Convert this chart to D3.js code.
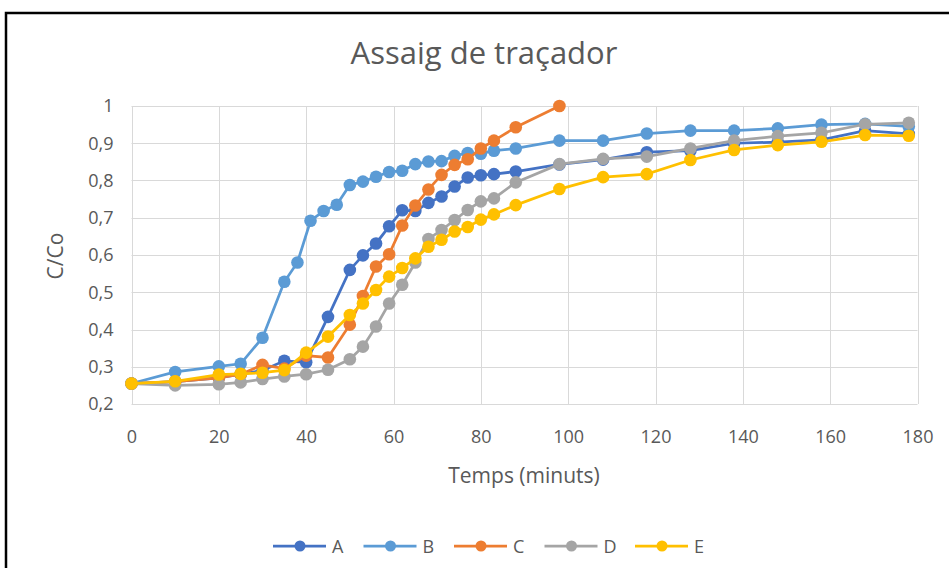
<!DOCTYPE html>
<html lang="ca">
<head>
<meta charset="utf-8">
<title>Assaig de traçador</title>
<script src="https://cdn.jsdelivr.net/npm/d3@7"></script>
<style>
  body {
    margin: 0;
    padding: 0;
    background: #ffffff;
    overflow: hidden;
  }
  text {
    font-family: "Open Sans", "Noto Sans", sans-serif;
    fill: #595959;
  }
  .grid line {
    stroke: #d9d9d9;
    stroke-width: 1px;
  }
  .serie {
    fill: none;
    stroke-width: 2.75px;
  }
</style>
</head>
<body>
<script>

// temps (minuts)
var tempsB = [0,10,20,25,30,35,38,41,44,47,50,53,56,59,62,65,68,71,74,77,80,83,88,98,108,118,128,138,148,158,168,178];
var temps = [0,10,20,25,30,35,40,45,50,53,56,59,62,65,68,71,74,77,80,83,88,98,108,118,128,138,148,158,168,178];
var tempsC = [0,10,20,25,30,35,40,45,50,53,56,59,62,65,68,71,74,77,80,83,88,98];

// C/Co per assaig
var valA = [0.255,0.26,0.27,0.28,0.29,0.316,0.312,0.434,0.56,0.599,0.631,0.677,0.72,0.718,0.74,0.757,0.784,0.808,0.814,0.817,0.824,0.843,0.856,0.876,0.88,0.9,0.903,0.909,0.934,0.925];
var valB = [0.255,0.286,0.301,0.308,0.378,0.528,0.58,0.692,0.718,0.735,0.788,0.797,0.81,0.823,0.826,0.844,0.851,0.852,0.866,0.874,0.872,0.88,0.886,0.907,0.907,0.926,0.934,0.934,0.94,0.95,0.952,0.945];
var valC = [0.255,0.26,0.27,0.28,0.305,0.295,0.33,0.325,0.413,0.49,0.569,0.602,0.679,0.733,0.776,0.815,0.842,0.857,0.886,0.907,0.943,1.0];
var valD = [0.255,0.25,0.253,0.258,0.267,0.274,0.28,0.292,0.32,0.354,0.408,0.47,0.52,0.58,0.643,0.667,0.694,0.721,0.744,0.752,0.795,0.844,0.858,0.864,0.886,0.907,0.919,0.928,0.951,0.955];
var valE = [0.255,0.261,0.279,0.281,0.284,0.291,0.338,0.381,0.439,0.47,0.506,0.542,0.565,0.591,0.622,0.641,0.663,0.675,0.695,0.709,0.734,0.777,0.809,0.817,0.855,0.882,0.895,0.904,0.922,0.92];

var noms = ["A","B","C","D","E"];
var colors = ["#4472c4","#5b9bd5","#ed7d31","#a5a5a5","#ffc000"];

var xTicks = [0,20,40,60,80,100,120,140,160,180];
var yTicks = [0.2,0.3,0.4,0.5,0.6,0.7,0.8,0.9,1];

var series = [
  {nom:"A", x:temps, y:valA},
  {nom:"B", x:tempsB, y:valB},
  {nom:"C", x:tempsC, y:valC},
  {nom:"D", x:temps, y:valD},
  {nom:"E", x:temps, y:valE}
];

var svg = d3.select("body").append("svg")
  .attr("width", 949)
  .attr("height", 568);

// marc negre
svg.append("rect")
  .attr("x", 6)
  .attr("y", 13)
  .attr("width", 960)
  .attr("height", 600)
  .attr("fill", "#ffffff")
  .attr("stroke", "#000000")
  .attr("stroke-width", 2.5);

var pLeft = 131.5, pRight = 917.5, pTop = 106, pBottom = 404;

var x = d3.scaleLinear().domain([0,180]).range([pLeft,pRight]);
var y = d3.scaleLinear().domain([0.2,1]).range([pBottom,pTop]);

var fmt = function(d){ return String(+d.toFixed(1)).replace(".", ","); };

// graella
var grid = svg.append("g").attr("class","grid");
grid.selectAll(".h").data(yTicks).enter().append("line")
  .attr("class","h")
  .attr("x1", pLeft).attr("x2", pRight)
  .attr("y1", function(d){ return Math.round(y(d)) + 0.5; })
  .attr("y2", function(d){ return Math.round(y(d)) + 0.5; });
grid.selectAll(".v").data(xTicks).enter().append("line")
  .attr("class","v")
  .attr("y1", pTop).attr("y2", pBottom)
  .attr("x1", function(d){ return Math.round(x(d)) + 0.5; })
  .attr("x2", function(d){ return Math.round(x(d)) + 0.5; });

// eixos
var xAxis = svg.append("g")
  .attr("transform", "translate(0," + pBottom + ")")
  .call(d3.axisBottom(x).tickValues(xTicks).tickSize(0).tickPadding(26).tickFormat(d3.format("d")));
xAxis.select(".domain").remove();
xAxis.selectAll("text").style("font-size", "18px").attr("fill", "#595959");

var yAxis = svg.append("g")
  .attr("transform", "translate(" + pLeft + ",0)")
  .call(d3.axisLeft(y).tickValues(yTicks).tickSize(0).tickPadding(18).tickFormat(fmt));
yAxis.select(".domain").remove();
yAxis.selectAll("text").style("font-size", "18px").attr("fill", "#595959");

// títols
svg.append("text")
  .attr("x", 484)
  .attr("y", 64)
  .attr("text-anchor", "middle")
  .style("font-size", "31px")
  .text("Assaig de traçador");

svg.append("text")
  .attr("x", 524)
  .attr("y", 483)
  .attr("text-anchor", "middle")
  .style("font-size", "21px")
  .text("Temps (minuts)");

svg.append("text")
  .attr("transform", "translate(63,256) rotate(-90)")
  .attr("text-anchor", "middle")
  .style("font-size", "21px")
  .text("C/Co");

// línies i punts
series.forEach(function(s, i){
  var pts = s.x.map(function(t, j){ return [t, s.y[j]]; });
  var line = d3.line()
    .x(function(d){ return x(d[0]); })
    .y(function(d){ return y(d[1]); });

  var g = svg.append("g").attr("class", "s" + s.nom);
  g.append("path")
    .datum(pts)
    .attr("class", "serie")
    .attr("stroke", colors[i])
    .attr("d", line);
  g.selectAll("circle").data(pts).enter().append("circle")
    .attr("cx", function(d){ return x(d[0]); })
    .attr("cy", function(d){ return y(d[1]); })
    .attr("r", 6.3)
    .attr("fill", colors[i]);
});

// llegenda
var leg = svg.append("g").attr("transform", "translate(273,546)");
noms.forEach(function(n, i){
  var gx = i * 90.5;
  leg.append("line")
    .attr("x1", gx).attr("x2", gx + 53)
    .attr("y1", 0).attr("y2", 0)
    .attr("stroke", colors[i])
    .attr("stroke-width", 2.75);
  leg.append("circle")
    .attr("cx", gx + 27).attr("cy", 0).attr("r", 5.5)
    .attr("fill", colors[i]);
  leg.append("text")
    .attr("x", gx + 59)
    .attr("y", 7)
    .style("font-size", "18px")
    .text(n);
});

</script>
</body>
</html>
